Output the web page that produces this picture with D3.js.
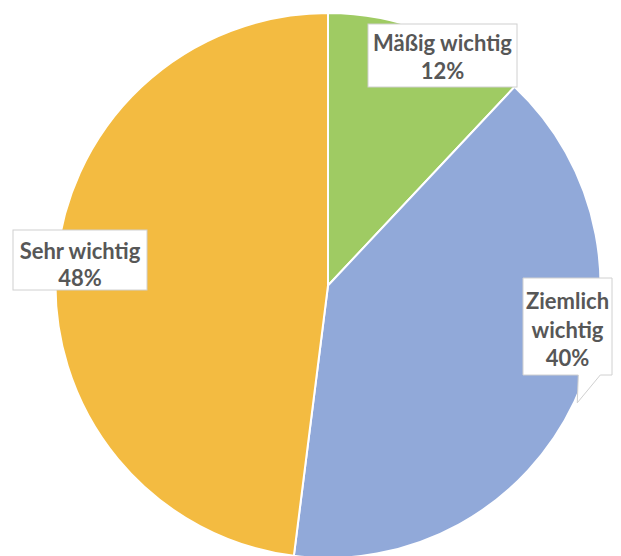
<!DOCTYPE html>
<html>
<head>
<meta charset="utf-8">
<script src="https://cdn.jsdelivr.net/npm/d3@7/dist/d3.min.js"></script>
<style>
  html, body { margin: 0; padding: 0; background: #ffffff; }
  svg { display: block; }
  .lbl { font-family: Lato, "Open Sans", sans-serif; font-weight: 700; fill: #575757; }
</style>
</head>
<body>
<svg id="chart" width="621" height="556"></svg>
<script>
// Survey answers, clockwise from 12 o'clock
const categories = ["Mäßig wichtig", "Ziemlich wichtig", "Sehr wichtig"];
const values = [12, 40, 48];
const colors = ["#9fcb63", "#91a9d9", "#f3bb41"];

// Label lines shown in each data label
const labelLines = [["Mäßig wichtig", "12%"], ["Ziemlich", "wichtig", "40%"], ["Sehr wichtig", "48%"]];

const W = 621, H = 556;
const cx = 328, cy = 285.5, R = 272.5;

const svg = d3.select("#chart");
const g = svg.append("g").attr("transform", `translate(${cx},${cy})`);

const pie = d3.pie().sort(null).value(d => d)(values);
const arc = d3.arc().innerRadius(0).outerRadius(R);

g.selectAll("path.slice")
  .data(pie)
  .join("path")
  .attr("class", "slice")
  .attr("d", arc)
  .attr("fill", (d, i) => colors[i])
  .attr("stroke", "#ffffff")
  .attr("stroke-width", 2);

// Label boxes: box geometry relative to the pie centre; the callout tail
// of the second label points at its slice's outer edge.
const boxes = [
  { x: 40,   y: -261.5, w: 149, h: 63, lineY: [-243, -215], callout: false },
  { x: 195,  y: -7.5,   w: 89,  h: 97, lineY: [15, 44, 72], callout: true },
  { x: -315, y: -55.5,  w: 134, h: 60, lineY: [-35, -8], callout: false }
];

const fontSize = 22;

boxes.forEach((b, i) => {
  const lg = g.append("g");
  if (b.callout) {
    // tail tip sits on the slice's outer arc at its mid angle
    const mid = (pie[i].startAngle + pie[i].endAngle) / 2;
    const tip = [Math.sin(mid) * (R + 3), -Math.cos(mid) * (R + 3)];
    const x0 = b.x, y0 = b.y, x1 = b.x + b.w, y1 = b.y + b.h;
    const t0 = tip[0] + 1, t1 = tip[0] + 23;
    const p = d3.path();
    p.moveTo(x0, y0); p.lineTo(x1, y0); p.lineTo(x1, y1);
    p.lineTo(t1, y1); p.lineTo(tip[0], tip[1]); p.lineTo(t0, y1);
    p.lineTo(x0, y1); p.closePath();
    lg.append("path").attr("d", p.toString())
      .attr("fill", "#ffffff").attr("stroke", "#d0d0d0").attr("stroke-width", 1);
  } else {
    lg.append("rect")
      .attr("x", b.x).attr("y", b.y).attr("width", b.w).attr("height", b.h)
      .attr("fill", "#ffffff").attr("stroke", "#d0d0d0").attr("stroke-width", 1);
  }
  labelLines[i].forEach((line, j) => {
    lg.append("text")
      .attr("class", "lbl")
      .attr("x", b.x + b.w / 2)
      .attr("y", b.lineY[j])
      .attr("text-anchor", "middle")
      .attr("dominant-baseline", "central")
      .attr("font-size", fontSize)
      .text(line);
  });
});
</script>
</body>
</html>
